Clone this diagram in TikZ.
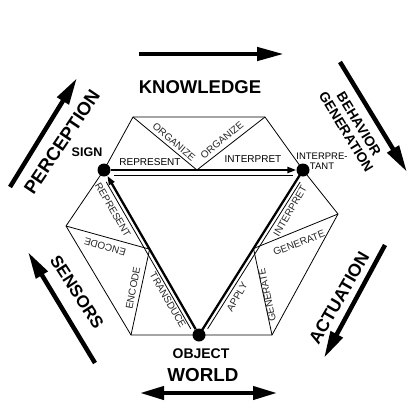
\documentclass[tikz,border=0pt]{standalone}
\usepackage{fontspec}
\setmainfont{Liberation Sans}
\usetikzlibrary{arrows.meta,calc}
\begin{document}
\begin{tikzpicture}[x=1pt,y=-1pt,
  big/.style={font=\bfseries\fontsize{#1}{#1}\selectfont, inner sep=0pt},
  lab/.style={font=\fontsize{10}{10}\selectfont, inner sep=0pt, text=black!85},
  thinl/.style={line width=0.8pt},
  edgeline/.style={line width=2.3pt},
  bigarrow/.style={line width=4.5pt, -{Triangle[length=27pt,width=13pt]}},
  smalltip/.style={-{Triangle[length=9pt,width=6pt]}},
  dotnode/.style={circle, minimum size=13pt, inner sep=0pt}]
\useasboundingbox (0,0) rectangle (414,418);

% vertices of the inner triangle
\node[dotnode] (S) at (104,170) {};
\node[dotnode] (I) at (303,170) {};
\node[dotnode] (O) at (199,335) {};

% hexagon corners
\coordinate (TL) at (133,117);
\coordinate (TR) at (265,117);
\coordinate (R)  at (338,214);
\coordinate (BR) at (272,335);
\coordinate (BL) at (131,335);
\coordinate (L)  at (66,226);
\coordinate (M1) at ($(S.center)!0.467!(I.center)$);
\coordinate (M2) at ($(S.center)!0.48!(O.center)$);
\coordinate (M3) at ($(I.center)!0.476!(O.center)$);

% hexagon outline and lobe subdivisions
\draw[thinl] (S.center) -- (TL) -- (TR) -- (I.center) -- (R) -- (BR) -- (BL) -- (L) -- cycle;
\draw[thinl] (TL) -- (M1) -- (TR);
\draw[thinl] (L) -- (M2) -- (BL);
\draw[thinl] (R) -- (M3) -- (BR);

% double edges of the triangle
\draw[thinl] ($(S.center)!0.05!(I.center)+(0,5)$) -- ($(I.center)!0.05!(S.center)+(0,5)$);
\draw[thinl] ($(S.center)!0.06!(O.center)+(-3.5,2)$) -- ($(O.center)!0.05!(S.center)+(-3.5,2)$);
\draw[thinl] ($(I.center)!0.06!(O.center)+(3.4,2.1)$) -- ($(O.center)!0.05!(I.center)+(3.4,2.1)$);
\draw[edgeline, smalltip] (S) -- (I);
\draw[edgeline, smalltip] (O) -- (S);
\draw[edgeline] (I.center) -- (O.center);

% dots
\fill (S.center) circle (6.5);
\fill (I.center) circle (6.5);
\fill (O.center) circle (6.5);

% vertex labels
\node[big=12.5] (signlab) at (87,152) {SIGN};
\node[font=\fontsize{9.5}{10}\selectfont, inner sep=0pt, align=center] (intlab) at (322,161.5) {INTERPRE-\\TANT};
\node[big=14] (objlab) at (201,353.5) {OBJECT};

% lobe labels
\node[lab, text=black] (t1) at (150,162) {REPRESENT};
\node[lab, text=black] (t2) at (253,159) {INTERPRET};
\node[lab, rotate=-40] (t3) at (174,142) {ORGANIZE};
\node[lab, rotate=40] (t4) at (222,140) {ORGANIZE};
\node[lab, rotate=-60] (t5) at (113,210) {REPRESENT};
\node[lab, rotate=164] (t6) at (105,247) {ENCODE};
\node[lab, rotate=79] (t7) at (133,288) {ENCODE};
\node[lab, rotate=-60] (t8) at (168,300) {TRANSDUCE};
\node[lab, rotate=60] (t9) at (290,211) {INTERPRET};
\node[lab, rotate=21] (t10) at (299,243) {GENERATE};
\node[lab, rotate=102] (t11) at (267,295) {GENERATE};
\node[lab, rotate=60] (t12) at (237,297) {APPLY};

% outer labels
\node[big=18.5] (know) at (200,87) {KNOWLEDGE};
\node[big=18.5, rotate=56] (perc) at (62,142) {PERCEPTION};
\node[font=\bfseries\fontsize{13.8}{15}\selectfont, inner sep=0pt, align=center, rotate=-58.5] (beh) at (352.5,128) {BEHAVIOR\\GENERATION};
\node[big=17, rotate=-57] (sens) at (77,292) {SENSORS};
\node[big=17.7, rotate=60] (act) at (339,298) {ACTUATION};
\node[big=18.8] (world) at (203,375) {WORLD};

% outer arrows
\coordinate (ka) at (139,54);  \coordinate (kb) at (284,54);
\coordinate (pa) at (10,187);  \coordinate (pb) at (77,78);
\coordinate (ba) at (340,62);  \coordinate (bb) at (407,172);
\coordinate (sa) at (95,363);  \coordinate (sb) at (28,252);
\coordinate (aa) at (385,245); \coordinate (ab) at (324,358);
\coordinate (wa) at (140,393); \coordinate (wb) at (277,393);
\draw[bigarrow] (ka) -- (kb);
\draw[bigarrow] (pa) -- (pb);
\draw[bigarrow] (ba) -- (bb);
\draw[bigarrow] (sa) -- (sb);
\draw[bigarrow] (aa) -- (ab);
\draw[line width=4pt, {Triangle[length=24pt,width=13pt]}-{Triangle[length=24pt,width=13pt]}] (wa) -- (wb);
\end{tikzpicture}
\end{document}
